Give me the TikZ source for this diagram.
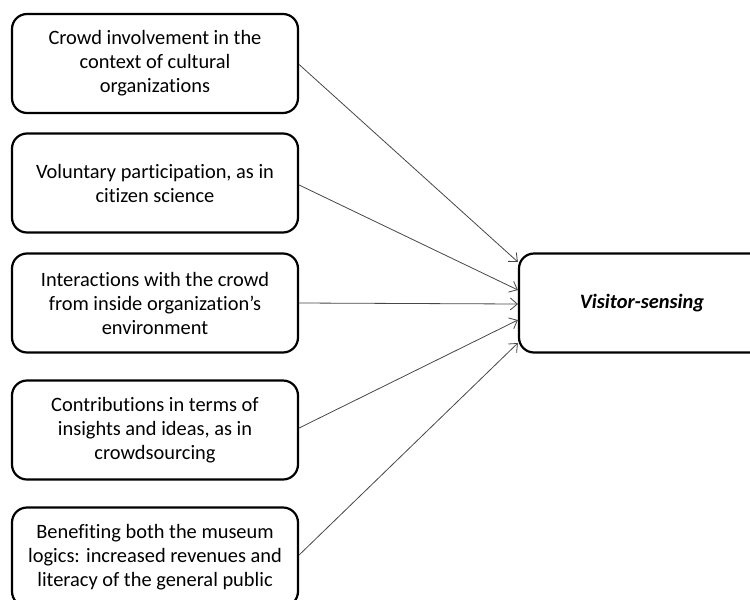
\documentclass[tikz,border=0pt]{standalone}
\usepackage{fontspec}
\setmainfont[Ligatures=NoCommon]{Carlito}
\usetikzlibrary{arrows.meta}
\begin{document}
\begin{tikzpicture}[x=1pt,y=-1pt,
  box/.style={draw=black, line width=2.2pt, rounded corners=15pt, align=center,
    minimum width=286pt, minimum height=99pt, inner sep=0pt,
    font=\fontsize{20.4pt}{24pt}\selectfont},
  conn/.style={draw=black!72, line width=0.8pt, -{Straight Barb[length=7pt,width=12pt,line width=0.8pt]}}]
\useasboundingbox (0,0) rectangle (750,600);
\begin{scope}
\clip (0,0) rectangle (750,600);
\node[box] (b1) at (155,63.5) {Crowd involvement in the\\context of cultural\\organizations};
\node[box] (b2) at (155,183) {Voluntary participation, as in\\citizen science};
\node[box] (b3) at (155,303) {Interactions with the crowd\\from inside organization’s\\environment};
\node[box] (b4) at (155,430) {Contributions in terms of\\insights and ideas, as in\\crowdsourcing};
\node[box] (b5) at (155,557) {Benefiting both the museum\\logics: increased revenues and\\literacy of the general public};
\node[box, minimum width=246pt] (v) at (642,303) {\textbf{\textit{Visitor-sensing}}};
\end{scope}
\coordinate (t1) at ([yshift=41pt]v.west);
\coordinate (t2) at ([yshift=13pt]v.west);
\coordinate (t3) at ([yshift=-1pt]v.west);
\coordinate (t4) at ([yshift=-17pt]v.west);
\coordinate (t5) at ([yshift=-40pt]v.west);
\draw[conn] ([yshift=-1pt]b1.east) -- (t1);
\draw[conn] ([yshift=-2pt]b2.east) -- (t2);
\draw[conn] (b3.east) -- (t3);
\draw[conn] ([yshift=2pt]b4.east) -- (t4);
\draw[conn] ([yshift=2pt]b5.east) -- (t5);
\end{tikzpicture}
\end{document}
